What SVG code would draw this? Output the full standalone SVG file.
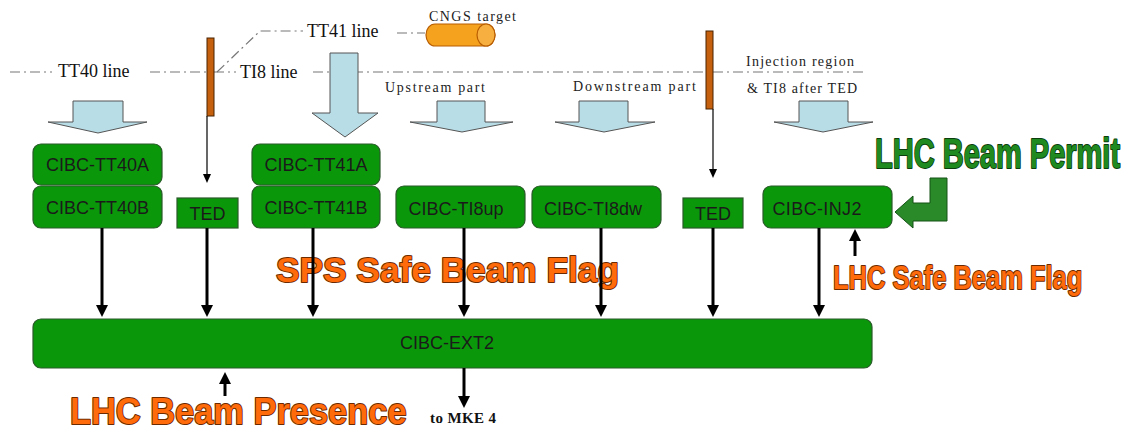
<svg xmlns="http://www.w3.org/2000/svg" width="1129" height="432" viewBox="0 0 1129 432">
<defs>
<style>
.dd{stroke:#777;stroke-width:1.2;stroke-dasharray:10 4 2 4;fill:none}
.lbl{font-family:"Liberation Serif","Times New Roman",serif;fill:#222;font-size:14px}
.lbl18{font-family:"Liberation Serif","Times New Roman",serif;fill:#111;font-size:18px}
.box{fill:#0a980a;stroke:#2a5a2a;stroke-width:1.2}
.btxt{font-family:"Liberation Sans",Arial,sans-serif;font-size:18px;fill:#1a1a1a;text-anchor:middle;dominant-baseline:central}
.blue{fill:#b8dde6;stroke:#555;stroke-width:1}
.ted{fill:#c4600e;stroke:#4a2200;stroke-width:1}
.conn{stroke:#000;stroke-width:3;fill:none}
.thin{stroke:#000;stroke-width:1.2;fill:none}
.big{font-family:"Liberation Sans",Arial,sans-serif;font-weight:bold;stroke-width:2;stroke-linejoin:round;paint-order:stroke}
.orange{fill:#ff6a0a;stroke:#6b2a00}
.green{fill:#1f8a1f;stroke:#0c3d0c}
</style>
<marker id="ah" markerUnits="userSpaceOnUse" markerWidth="12" markerHeight="12" refX="4" refY="6" orient="auto">
<path d="M0,0 L12,6 L0,12 z" fill="#000"/>
</marker>
<marker id="ahs" markerUnits="userSpaceOnUse" markerWidth="9" markerHeight="8" refX="3" refY="4" orient="auto">
<path d="M0,0 L9,4 L0,8 z" fill="#000"/>
</marker>
</defs>
<rect width="1129" height="432" fill="#fff"/>

<g id="beamlines">
<path class="dd" d="M10,72 H52 M150,72 H206 M214,72 H236 M313,72 H865"/>
<path class="dd" d="M217,72 L260,31 H303"/>
<path class="dd" d="M397,33 H425"/>
<text class="lbl18" x="58" y="77">TT40 line</text>
<text class="lbl18" x="240" y="78">TI8 line</text>
<text class="lbl18" x="307" y="37">TT41 line</text>
<text class="lbl" x="429" y="21" textLength="87" lengthAdjust="spacing">CNGS target</text>
<text class="lbl" x="385" y="92" textLength="100" lengthAdjust="spacing">Upstream part</text>
<text class="lbl" x="573" y="91" textLength="123" lengthAdjust="spacing">Downstream part</text>
<text class="lbl" x="746" y="66" textLength="108" lengthAdjust="spacing">Injection region</text>
<text class="lbl" x="747" y="93" textLength="110" lengthAdjust="spacing">&amp; TI8 after TED</text>
</g>

<g id="cngs-target">
<path d="M435,24 H486 A9,11 0 0 1 486,46 H435 A9,11 0 0 1 435,24 z" fill="#f5a31f" stroke="#b85c00" stroke-width="1.2"/>
<ellipse cx="486" cy="35" rx="9" ry="11" fill="#f7b040" stroke="#b85c00" stroke-width="1.2"/>
</g>

<g id="ted-bar-1"><rect class="ted" x="207" y="38" width="7" height="78"/></g>
<g id="ted-bar-2"><rect class="ted" x="706" y="31" width="7" height="78"/></g>

<g id="blue-arrows">
<polygon class="blue" points="73,101 123,101 123,122 147,122 98,133 48,122 73,122"/>
<polygon class="blue" points="330,53 358,53 358,113 378,113 345,137 312,113 330,113"/>
<polygon class="blue" points="437,101 485,101 485,122 513,122 462,132 410,122 437,122"/>
<polygon class="blue" points="579,101 628,101 628,122 655,122 604,132 555,122 579,122"/>
<polygon class="blue" points="799,101 848,101 848,122 873,122 823,132 774,122 799,122"/>
</g>

<g id="cibc-tt40a"><rect class="box" x="33" y="144" width="129" height="41" rx="8"/><text class="btxt" x="97.5" y="165">CIBC-TT40A</text></g>
<g id="cibc-tt40b"><rect class="box" x="33" y="186" width="129" height="42" rx="8"/><text class="btxt" x="97.5" y="208">CIBC-TT40B</text></g>
<g id="ted-1"><rect class="box" x="177" y="198" width="61" height="30"/><text class="btxt" x="207.5" y="214" font-size="17">TED</text></g>
<g id="cibc-tt41a"><rect class="box" x="252" y="144" width="128" height="41" rx="8"/><text class="btxt" x="316" y="165">CIBC-TT41A</text></g>
<g id="cibc-tt41b"><rect class="box" x="252" y="186" width="128" height="42" rx="8"/><text class="btxt" x="316" y="208">CIBC-TT41B</text></g>
<g id="cibc-ti8up"><rect class="box" x="396" y="186" width="129" height="42" rx="8"/><text class="btxt" x="456" y="209">CIBC-TI8up</text></g>
<g id="cibc-ti8dw"><rect class="box" x="532" y="186" width="129" height="42" rx="8"/><text class="btxt" x="593" y="209">CIBC-TI8dw</text></g>
<g id="ted-2"><rect class="box" x="683" y="198" width="60" height="30"/><text class="btxt" x="713" y="214" font-size="17">TED</text></g>
<g id="cibc-inj2"><rect class="box" x="763" y="186" width="129" height="42" rx="8"/><text class="btxt" x="817" y="209" font-size="15" textLength="89" lengthAdjust="spacing">CIBC-INJ2</text></g>
<g id="cibc-ext2"><rect class="box" x="33" y="319" width="839" height="49" rx="8"/><text class="btxt" x="447" y="343">CIBC-EXT2</text></g>

<g id="signals">
<text class="big orange" transform="translate(276,282) scale(0.98,1)" x="0" y="0" font-size="36">SPS Safe Beam Flag</text>
<text class="big orange" transform="translate(833,289) scale(0.75,1)" x="0" y="0" font-size="34">LHC Safe Beam Flag</text>
<text class="big orange" transform="translate(70,424) scale(0.93,1)" x="0" y="0" font-size="37">LHC Beam Presence</text>
<text class="big green" transform="translate(875,168) scale(0.675,1)" x="0" y="0" font-size="43">LHC Beam Permit</text>
<text font-family="Liberation Serif,'Times New Roman',serif" font-weight="bold" font-size="15" fill="#111" x="430" y="423" textLength="66" lengthAdjust="spacing">to MKE 4</text>
</g>

<g id="permit-arrow">
<polygon points="930,178 947,178 947,221 913,221 913,228 895,212 913,196 913,203 930,203" fill="#2a8a2a" stroke="#145214" stroke-width="1"/>
</g>

<g id="connectors">
<line class="thin" x1="207" y1="116" x2="207" y2="177" marker-end="url(#ahs)"/>
<line class="thin" x1="713" y1="109" x2="713" y2="172" marker-end="url(#ahs)"/>
<line class="conn" x1="102" y1="228" x2="102" y2="309" marker-end="url(#ah)"/>
<line class="conn" x1="207" y1="228" x2="207" y2="309" marker-end="url(#ah)"/>
<line class="conn" x1="313" y1="228" x2="313" y2="309" marker-end="url(#ah)"/>
<line class="conn" x1="464" y1="228" x2="464" y2="309" marker-end="url(#ah)"/>
<line class="conn" x1="601" y1="228" x2="601" y2="309" marker-end="url(#ah)"/>
<line class="conn" x1="713" y1="228" x2="713" y2="309" marker-end="url(#ah)"/>
<line class="conn" x1="819" y1="228" x2="819" y2="309" marker-end="url(#ah)"/>
<line class="conn" stroke-width="2.2" x1="855" y1="256" x2="855" y2="237" marker-end="url(#ah)"/>
<line class="conn" stroke-width="2.2" x1="225" y1="396" x2="225" y2="380" marker-end="url(#ah)"/>
<line class="conn" x1="464" y1="368" x2="464" y2="400" marker-end="url(#ah)"/>
</g>
</svg>
